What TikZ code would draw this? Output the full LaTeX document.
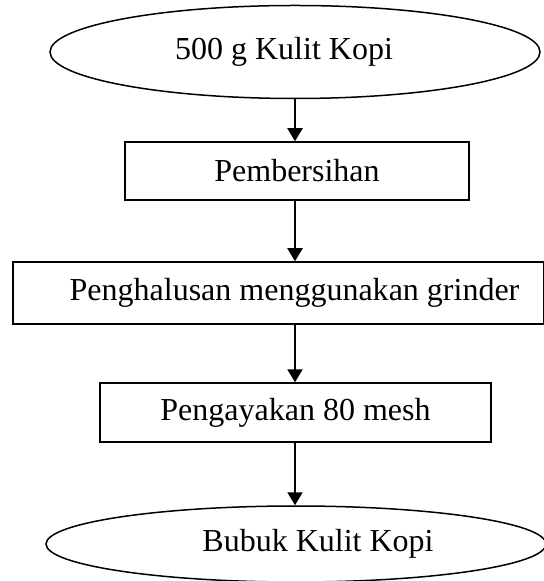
\documentclass[tikz,border=0pt]{standalone}
\usepackage{fontspec}
\setmainfont{Liberation Serif}
\usetikzlibrary{shapes.geometric,arrows.meta}

\begin{document}
\begin{tikzpicture}
  [x=0.5pt,y=-0.5pt,every node/.style={draw,line width=0.75pt,inner sep=0pt,font=\fontsize{16}{19}\selectfont},
   terminal/.style={ellipse},
   proses/.style={rectangle},
   panah/.style={line width=1pt,-{Triangle[length=6.5pt,width=7.5pt]}}]
  \useasboundingbox (0,0) rectangle (543,581);
  \node[terminal,minimum width=245pt,minimum height=46.5pt] (n1) at (295,52)  {500 g Kulit Kopi\hspace*{11pt}};
  \node[proses,minimum width=172pt,minimum height=29pt] (n2) at (297,171) {Pembersihan};
  \node[proses,minimum width=265.5pt,minimum height=31pt] (n3) at (278.5,293) {\hspace*{16pt}Penghalusan menggunakan grinder};
  \node[proses,minimum width=195.5pt,minimum height=29.5pt] (n4) at (295.5,412.5) {Pengayakan 80 mesh};
  \node[terminal,minimum width=250pt,minimum height=38pt] (n5) at (296,544) {\hspace*{22pt}Bubuk Kulit Kopi};

\foreach \from/\to in
{n1/n2, n2/n3, n3/n4, n4/n5}
    \draw[panah] (n1.center |- \from.south) -- (n1.center |- \to.north);
\end{tikzpicture}
\end{document}
